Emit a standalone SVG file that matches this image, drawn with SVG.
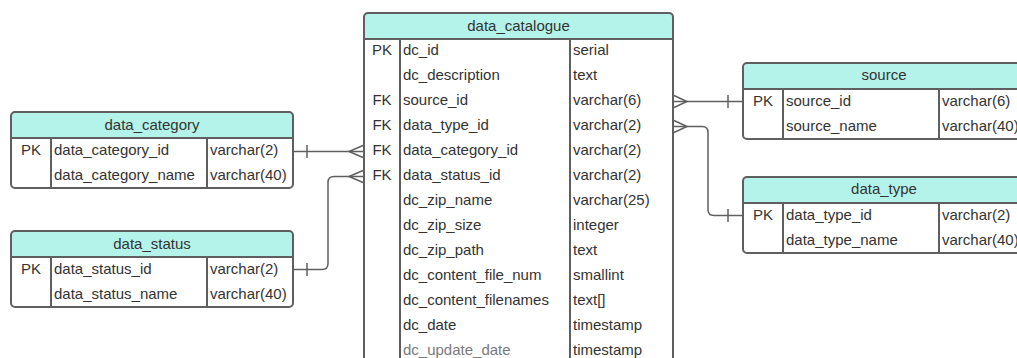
<svg xmlns="http://www.w3.org/2000/svg" width="1017" height="358" viewBox="0 0 1017 358">
<style>
.bg{fill:#ffffff}
.hd{fill:#b3f3ea}
.box{fill:none;stroke:#5f5f5f;stroke-width:2}
.ln{stroke:#5f5f5f;stroke-width:2;fill:none}
.cn{stroke:#5f5f5f;stroke-width:1.5;fill:none}
text{font-family:"Liberation Sans",Arial,sans-serif;font-size:15px;fill:#333333}
.h{text-anchor:middle}
.k{text-anchor:middle}
.faint{fill:#7a7a7a}
</style>
<rect width="1017" height="358" fill="#ffffff"/>

<g id="data_catalogue">
<rect class="bg" x="364" y="13" width="309" height="360" rx="4"/>
<path class="hd" d="M364,39 V17 Q364,13 368,13 H669 Q673,13 673,17 V39 Z"/>
<rect class="box" x="364" y="13" width="309" height="360" rx="4"/>
<line class="ln" x1="364" y1="39" x2="673" y2="39"/>
<line class="ln" x1="400" y1="39" x2="400" y2="373"/>
<line class="ln" x1="570" y1="39" x2="570" y2="373"/>
<text class="h" x="518.5" y="31">data_catalogue</text>
<text class="k" x="382" y="55">PK</text><text x="403" y="55">dc_id</text><text x="573" y="55">serial</text>
<text x="403" y="80">dc_description</text><text x="573" y="80">text</text>
<text class="k" x="382" y="105">FK</text><text x="403" y="105">source_id</text><text x="573" y="105">varchar(6)</text>
<text class="k" x="382" y="130">FK</text><text x="403" y="130">data_type_id</text><text x="573" y="130">varchar(2)</text>
<text class="k" x="382" y="155">FK</text><text x="403" y="155">data_category_id</text><text x="573" y="155">varchar(2)</text>
<text class="k" x="382" y="180">FK</text><text x="403" y="180">data_status_id</text><text x="573" y="180">varchar(2)</text>
<text x="403" y="205">dc_zip_name</text><text x="573" y="205">varchar(25)</text>
<text x="403" y="230">dc_zip_size</text><text x="573" y="230">integer</text>
<text x="403" y="255">dc_zip_path</text><text x="573" y="255">text</text>
<text x="403" y="280">dc_content_file_num</text><text x="573" y="280">smallint</text>
<text x="403" y="305">dc_content_filenames</text><text x="573" y="305">text[]</text>
<text x="403" y="330">dc_date</text><text x="573" y="330">timestamp</text>
<text class="faint" x="403" y="354.5">dc_update_date</text><text x="573" y="354.5">timestamp</text>
</g>

<g id="data_category">
<rect class="bg" x="11" y="112" width="282" height="76" rx="4"/>
<path class="hd" d="M11,138 V116 Q11,112 15,112 H289 Q293,112 293,116 V138 Z"/>
<rect class="box" x="11" y="112" width="282" height="76" rx="4"/>
<line class="ln" x1="11" y1="138" x2="293" y2="138"/>
<line class="ln" x1="51" y1="138" x2="51" y2="188"/>
<line class="ln" x1="207" y1="138" x2="207" y2="188"/>
<text class="h" x="152" y="130">data_category</text>
<text class="k" x="31" y="155">PK</text><text x="54" y="155">data_category_id</text><text x="210" y="155">varchar(2)</text>
<text x="54" y="180">data_category_name</text><text x="210" y="180">varchar(40)</text>
</g>

<g id="data_status">
<rect class="bg" x="11" y="231" width="282" height="76" rx="4"/>
<path class="hd" d="M11,257 V235 Q11,231 15,231 H289 Q293,231 293,235 V257 Z"/>
<rect class="box" x="11" y="231" width="282" height="76" rx="4"/>
<line class="ln" x1="11" y1="257" x2="293" y2="257"/>
<line class="ln" x1="51" y1="257" x2="51" y2="307"/>
<line class="ln" x1="207" y1="257" x2="207" y2="307"/>
<text class="h" x="152" y="249">data_status</text>
<text class="k" x="31" y="274">PK</text><text x="54" y="274">data_status_id</text><text x="210" y="274">varchar(2)</text>
<text x="54" y="299">data_status_name</text><text x="210" y="299">varchar(40)</text>
</g>

<g id="source">
<rect class="bg" x="743" y="63" width="282" height="76" rx="4"/>
<path class="hd" d="M743,89 V67 Q743,63 747,63 H1021 Q1025,63 1025,67 V89 Z"/>
<rect class="box" x="743" y="63" width="282" height="76" rx="4"/>
<line class="ln" x1="743" y1="89" x2="1025" y2="89"/>
<line class="ln" x1="783" y1="89" x2="783" y2="139"/>
<line class="ln" x1="939" y1="89" x2="939" y2="139"/>
<text class="h" x="884" y="80">source</text>
<text class="k" x="763" y="106">PK</text><text x="786" y="106">source_id</text><text x="942" y="106">varchar(6)</text>
<text x="786" y="131">source_name</text><text x="942" y="131">varchar(40)</text>
</g>

<g id="data_type">
<rect class="bg" x="743" y="177" width="282" height="76" rx="4"/>
<path class="hd" d="M743,203 V181 Q743,177 747,177 H1021 Q1025,177 1025,181 V203 Z"/>
<rect class="box" x="743" y="177" width="282" height="76" rx="4"/>
<line class="ln" x1="743" y1="203" x2="1025" y2="203"/>
<line class="ln" x1="783" y1="203" x2="783" y2="253"/>
<line class="ln" x1="939" y1="203" x2="939" y2="253"/>
<text class="h" x="884" y="194">data_type</text>
<text class="k" x="763" y="220">PK</text><text x="786" y="220">data_type_id</text><text x="942" y="220">varchar(2)</text>
<text x="786" y="245">data_type_name</text><text x="942" y="245">varchar(40)</text>
</g>

<g id="connectors">
<path class="cn" d="M294,151.5 H363"/>
<path class="cn" d="M307,145 V158"/>
<path class="cn" d="M363,145.5 L349,151.5 L363,157.5"/>

<path class="cn" d="M294,269.5 H322 Q328,269.5 328,263.5 V182.5 Q328,176.5 334,176.5 H363"/>
<path class="cn" d="M307,263 V276"/>
<path class="cn" d="M363,170.5 L349,176.5 L363,182.5"/>

<path class="cn" d="M674,101.5 H742"/>
<path class="cn" d="M728,95 V108"/>
<path class="cn" d="M674,95.5 L687,101.5 L674,107.5"/>

<path class="cn" d="M674,126.5 H702 Q708,126.5 708,132.5 V209.5 Q708,215.5 714,215.5 H742"/>
<path class="cn" d="M728,209 V222"/>
<path class="cn" d="M674,120.5 L687,126.5 L674,132.5"/>
</g>
</svg>
